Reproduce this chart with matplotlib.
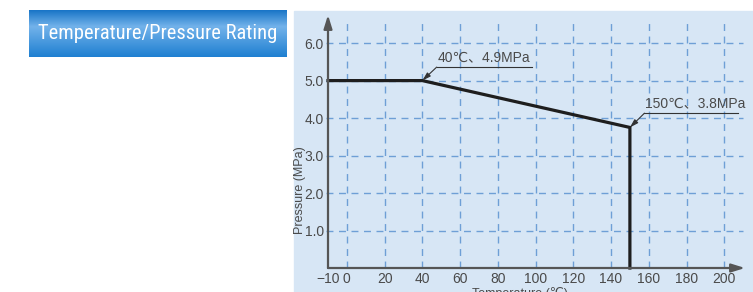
import numpy as np
import matplotlib
matplotlib.use("Agg")
import matplotlib.pyplot as plt
from matplotlib import font_manager
from matplotlib.patches import Rectangle

# rating curve
temps = [-10, 40, 150, 150]
pressures = [5.0, 5.0, 3.75, 0.0]

x_ticks = [-10, 0, 20, 40, 60, 80, 100, 120, 140, 160, 180, 200]
x_grid = [0, 20, 40, 60, 80, 100, 120, 140, 160, 180, 200]
y_ticks = [1.0, 2.0, 3.0, 4.0, 5.0, 6.0]

notes = ["40\u2103\u30014.9MPa", "150\u2103\u30013.8MPa"]
note_points = [(40, 5.0), (150, 3.75)]
note_elbows = [(47.6, 5.36), (157.7, 4.13)]
note_ends = [97.9, 207.4]

W, H = 753, 292
PANEL = "#d7e6f5"
GRID = "#6e9fd6"
TEXT = "#4a4a4a"
FONTS = ["Liberation Sans", "DejaVu Sans", "Noto Sans CJK JP"]


def narrow_family():
    """Pick a condensed sans family if one is installed."""
    names = {f.name for f in font_manager.fontManager.ttflist}
    for name in ["Liberation Sans Narrow", "DejaVu Sans Condensed",
                 "Roboto Condensed", "Open Sans Condensed", "Noto Sans Condensed"]:
        if name in names:
            return name, 14.8
    return "Liberation Sans", 14


fig = plt.figure(figsize=(W / 100, H / 100), dpi=100)
fig.patch.set_facecolor("white")

# light blue panel behind the chart
fig.patches.append(Rectangle((294 / W, 0), 1 - 294 / W, 1 - 11 / H,
                             transform=fig.transFigure, color=PANEL, zorder=-5))

# gradient title banner
bax = fig.add_axes([29 / W, 1 - 57 / H, (287 - 29) / W, 47 / H])
stops = np.array([0.0, 0.35, 1.0])
cols = np.array([[0.10, 0.46, 0.78], [0.45, 0.70, 0.92], [0.12, 0.50, 0.82]])
t = np.linspace(0, 1, 60)
grad = np.stack([np.interp(t, stops, cols[:, i]) for i in range(3)], axis=1)
bax.imshow(grad[:, None, :], aspect="auto", extent=[0, 1, 0, 1])
bax.set_axis_off()
title_font, title_size = narrow_family()
bax.text(0.5, 0.5, "Temperature/Pressure Rating", color="white",
         fontsize=title_size, ha="center", va="center",
         family=[title_font, "DejaVu Sans"], transform=bax.transAxes)

# main axes
x0, x1 = -10, 211
y0, y1 = 0, 6.75
ax = fig.add_axes([328 / W, 24 / H, (745 - 328) / W, (268 - 15) / H])
ax.set_facecolor("none")
ax.set_xlim(x0, x1)
ax.set_ylim(y0, y1)
for s in ax.spines.values():
    s.set_visible(False)

for gx in x_grid:
    ax.plot([gx, gx], [0, 6.65], color=GRID, lw=1, ls=(0, (5, 4)), zorder=1)
for gy in y_ticks:
    ax.plot([-11, 210], [gy, gy], color=GRID, lw=1, ls=(0, (5, 4)), zorder=1,
            clip_on=False)

# axes with arrow heads
for end in [(x1, 0), (x0, y1)]:
    ax.annotate("", xy=end, xytext=(x0, 0),
                arrowprops=dict(arrowstyle="-|>,head_length=0.8,head_width=0.25",
                                color="#555555", lw=1.6, shrinkA=0, shrinkB=0),
                annotation_clip=False, zorder=4)

ax.plot(temps, pressures, color="#1e1e1e", lw=2.3, zorder=3,
        solid_joinstyle="miter", clip_on=False)

for text, (px, py), (ex, ey), end in zip(notes, note_points, note_elbows, note_ends):
    ax.annotate("", xy=(px, py), xytext=(ex, ey),
                arrowprops=dict(arrowstyle="-|>,head_length=0.5,head_width=0.15",
                                color="#333333", lw=0.8, shrinkA=0, shrinkB=0),
                annotation_clip=False, zorder=5)
    ax.plot([ex, end], [ey, ey], color="#333333", lw=0.8, zorder=5, clip_on=False)
    ax.text(ex + 0.5, ey + 0.07, text, fontsize=10, color=TEXT,
            ha="left", va="bottom", family=FONTS, zorder=5)

ax.set_xticks(x_ticks)
ax.set_xticklabels(["\u221210" if v == -10 else str(v) for v in x_ticks],
                   family=FONTS)
ax.set_yticks(y_ticks)
ax.set_yticklabels([f"{v:.1f}" for v in y_ticks], family=FONTS)
ax.tick_params(length=0, labelsize=10, labelcolor=TEXT)
ax.tick_params(axis="y", pad=3)
ax.tick_params(axis="x", pad=3)

fig.text(300 / W, 1 - 190 / H, "Pressure (MPa)", rotation=90, fontsize=9,
         color=TEXT, ha="center", va="center", family=FONTS)
fig.text(520 / W, 1 - 287 / H, "Temperature (\u2103)", fontsize=9,
         color=TEXT, ha="center", va="top", family=FONTS)

fig.savefig("out.png", dpi=100)
